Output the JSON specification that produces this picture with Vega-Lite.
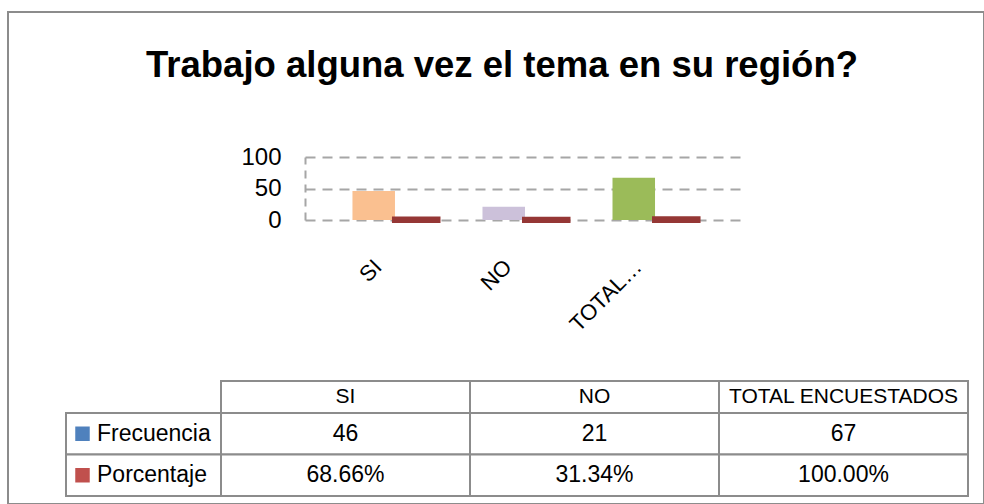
{
  "$schema": "https://vega.github.io/schema/vega-lite/v6.json",
  "width": 976,
  "height": 492,
  "autosize": "none",
  "padding": {"left": 8, "top": 12, "right": 0, "bottom": 0},
  "background": "white",
  "config": {
    "view": {"stroke": "#8c8c8c", "strokeWidth": 2},
    "font": "Liberation Sans",
    "text": {"font": "Liberation Sans", "color": "black"}
  },
  "title": {
    "text": "Trabajo alguna vez el tema en su región?",
    "font": "Liberation Sans",
    "fontSize": 36.5,
    "fontWeight": "bold",
    "color": "black",
    "anchor": "middle",
    "frame": "group",
    "offset": -72,
    "dx": 6
  },
  "datasets": {
    "datos": [
      {"categoria": "SI", "serie": "Frecuencia", "valor": 46},
      {"categoria": "NO", "serie": "Frecuencia", "valor": 21},
      {"categoria": "TOTAL ENCUESTADOS", "serie": "Frecuencia", "valor": 67},
      {"categoria": "SI", "serie": "Porcentaje", "valor": 0.6866},
      {"categoria": "NO", "serie": "Porcentaje", "valor": 0.3134},
      {"categoria": "TOTAL ENCUESTADOS", "serie": "Porcentaje", "valor": 1.0}
    ]
  },
  "data": {"name": "datos"},
  "layer": [
    {
      "encoding": {
        "x": {
          "field": "categoria",
          "type": "nominal",
          "sort": null,
          "scale": {"domain": ["SI", "NO", "TOTAL ENCUESTADOS"], "range": [297, 737], "paddingInner": 0.346, "paddingOuter": 0.365},
          "axis": {
            "orient": "bottom",
            "offset": -284,
            "domain": false,
            "ticks": false,
            "grid": false,
            "labelAngle": -45,
            "labelFontSize": 22,
            "labelFont": "Liberation Sans",
            "labelColor": "black",
            "labelPadding": 36,
            "labelOffset": -24,
            "title": null,
            "labelExpr": "datum.label == 'TOTAL ENCUESTADOS' ? 'TOTAL…' : datum.label"
          }
        },
        "xOffset": {"field": "serie", "type": "nominal", "scale": {"domain": ["Frecuencia", "Porcentaje"]}},
        "y": {
          "field": "valor",
          "type": "quantitative",
          "scale": {"domain": [0, 100], "range": [208, 145], "nice": false, "zero": true},
          "axis": {
            "orient": "left",
            "offset": -297,
            "values": [0, 50, 100],
            "ticks": false,
            "domain": true,
            "domainDash": [8, 6],
            "domainColor": "#a6a6a6",
            "domainWidth": 2,
            "grid": true,
            "gridDash": [10, 7],
            "gridColor": "#a6a6a6",
            "gridWidth": 2,
            "labelFontSize": 24,
            "labelFont": "Liberation Sans",
            "labelColor": "black",
            "labelPadding": 24,
            "title": null
          }
        }
      },
      "layer": [
        {
          "transform": [{"filter": "datum.serie == 'Frecuencia'"}],
          "mark": {"type": "bar"},
          "encoding": {
            "color": {
              "field": "categoria",
              "type": "nominal",
              "scale": {"domain": ["SI", "NO", "TOTAL ENCUESTADOS"], "range": ["#FAC090", "#CCC1DA", "#9BBB59"]},
              "legend": null
            }
          }
        },
        {
          "transform": [{"filter": "datum.serie == 'Porcentaje'"}],
          "mark": {"type": "bar", "color": "#953735", "stroke": "#953735", "strokeWidth": 6},
          "encoding": {}
        }
      ]
    },
    {
      "transform": [{"filter": "datum.serie == 'Frecuencia'"}],
      "encoding": {
        "x": {
          "field": "categoria",
          "type": "nominal",
          "sort": null,
          "scale": {"domain": ["SI", "NO", "TOTAL ENCUESTADOS"], "range": [213, 960], "paddingInner": 0, "paddingOuter": 0},
          "axis": null
        },
        "y": {"datum": "encabezado", "type": "nominal", "scale": {"range": [369, 401], "paddingInner": 0, "paddingOuter": 0}, "axis": null}
      },
      "layer": [
        {"mark": {"type": "rect", "fill": "white", "stroke": "#8c8c8c", "strokeWidth": 2}},
        {"mark": {"type": "text", "fontSize": 21, "font": "Liberation Sans", "color": "black"}, "encoding": {"text": {"field": "categoria"}}}
      ]
    },
    {
      "encoding": {
        "x": {
          "field": "categoria",
          "type": "nominal",
          "sort": null,
          "scale": {"domain": ["SI", "NO", "TOTAL ENCUESTADOS"], "range": [213, 960], "paddingInner": 0, "paddingOuter": 0},
          "axis": null
        },
        "y": {"field": "serie", "type": "nominal", "scale": {"domain": ["Frecuencia", "Porcentaje"], "range": [401, 484], "paddingInner": 0, "paddingOuter": 0}, "axis": null}
      },
      "layer": [
        {"mark": {"type": "rect", "fill": "white", "stroke": "#8c8c8c", "strokeWidth": 2}},
        {
          "transform": [{"filter": "datum.serie == 'Frecuencia'"}],
          "mark": {"type": "text", "fontSize": 23, "font": "Liberation Sans", "color": "black"},
          "encoding": {"text": {"field": "valor", "type": "quantitative", "format": "d"}}
        },
        {
          "transform": [{"filter": "datum.serie == 'Porcentaje'"}],
          "mark": {"type": "text", "fontSize": 23, "font": "Liberation Sans", "color": "black"},
          "encoding": {"text": {"field": "valor", "type": "quantitative", "format": ".2%"}}
        }
      ]
    },
    {
      "transform": [{"filter": "datum.categoria == 'SI'"}],
      "encoding": {
        "x": {"datum": "leyenda", "type": "nominal", "bandPosition": 0, "scale": {"range": [58, 213], "paddingInner": 0, "paddingOuter": 0}, "axis": null},
        "y": {"field": "serie", "type": "nominal", "scale": {"domain": ["Frecuencia", "Porcentaje"], "range": [401, 484], "paddingInner": 0, "paddingOuter": 0}, "axis": null}
      },
      "layer": [
        {"mark": {"type": "rect", "fill": "white", "stroke": "#8c8c8c", "strokeWidth": 2}},
        {
          "mark": {"type": "point", "shape": "square", "filled": true, "size": 210, "opacity": 1, "xOffset": 16.5},
          "encoding": {
            "color": {"field": "serie", "type": "nominal", "scale": {"domain": ["Frecuencia", "Porcentaje"], "range": ["#4F81BD", "#C0504D"]}, "legend": null}
          }
        },
        {
          "mark": {"type": "text", "fontSize": 23, "font": "Liberation Sans", "color": "black", "align": "left", "dx": 31},
          "encoding": {"text": {"field": "serie"}}
        }
      ]
    }
  ],
  "resolve": {
    "scale": {"x": "independent", "y": "independent", "color": "independent", "xOffset": "independent"},
    "axis": {"x": "independent", "y": "independent"}
  }
}
